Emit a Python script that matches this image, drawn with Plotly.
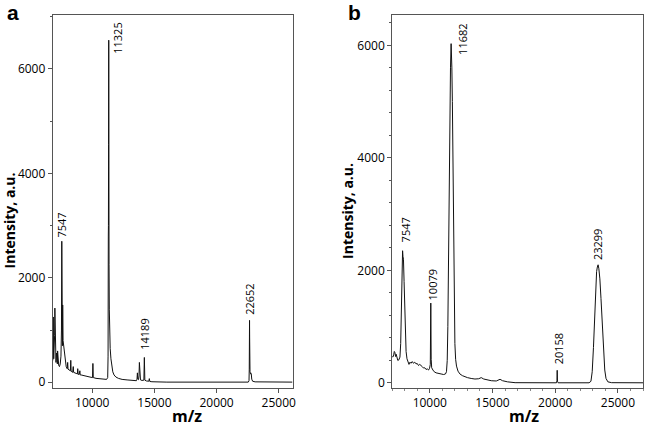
import plotly.graph_objects as go

# ---------------- data ----------------
mz_a = [6830, 6860, 6880, 6900, 6940, 6970, 6990, 7010, 7040, 7080, 7120, 7150, 7190, 7210, 7240,
        7300, 7360, 7420, 7480, 7520, 7547, 7570, 7600, 7620, 7650, 7690, 7720, 7770, 7830, 7900,
        7980, 8020, 8050, 8150, 8240, 8270, 8300, 8420, 8470, 8500, 8560, 8700, 8800, 8830, 8870,
        8950, 9000, 9030, 9100, 9300, 9500, 9700, 9900, 10020, 10050, 10080, 10300, 10600, 10900,
        11150, 11240, 11270, 11290, 11300, 11312, 11325, 11338, 11350, 11370, 11400, 11440, 11500,
        11560, 11650, 11750, 11900, 12100, 12400, 12800, 13200, 13550, 13600, 13630, 13660, 13720,
        13760, 13790, 13820, 13880, 14000, 14150, 14189, 14230, 14350, 14550, 14590, 14630, 14800,
        15200, 16000, 22550, 22610, 22630, 22645, 22652, 22662, 22690, 22740, 22790, 22830, 22900,
        23100, 24000, 26100]
intensity_a = [420, 1250, 600, 450, 650, 900, 1420, 800, 450, 380, 560, 420, 350, 600, 360,
               320, 300, 350, 500, 1000, 2700, 900, 700, 1480, 800, 720, 600, 480, 380, 300,
               260, 380, 250, 230, 220, 420, 210, 190, 300, 190, 180, 170, 160, 260, 150,
               150, 220, 140, 140, 125, 115, 105, 95, 90, 360, 90, 75, 65, 55,
               55, 90, 500, 2800, 3000, 4550, 6550, 4550, 2250, 1400, 900, 650, 450,
               300, 200, 140, 100, 75, 55, 45, 35, 30, 60, 180, 60, 50,
               120, 380, 100, 45, 35, 40, 475, 40, 25, 20, 70, 15, 10,
               5, 3, 3, 30, 250, 850, 1185, 850, 200, 160, 170, 60, 20,
               8, 3, 3]

mz_b = [7000, 7060, 7120, 7170, 7220, 7270, 7320, 7380, 7450, 7530, 7620, 7680, 7720, 7760, 7800,
        7830, 7860, 7900, 7950, 8000, 8050, 8110, 8180, 8260, 8340, 8420, 8500, 8600, 8700, 8800,
        8900, 9000, 9100, 9200, 9300, 9400, 9500, 9600, 9700, 9800, 9900, 9980, 10040, 10079,
        10110, 10150, 10250, 10350, 10500, 10700, 10900, 11100, 11250, 11330, 11390, 11440, 11490,
        11540, 11600, 11650, 11700, 11730, 11760, 11800, 11850, 11900, 11950, 12000, 12060, 12130,
        12250, 12400, 12600, 12800, 13000, 13300, 13600, 13900, 14100, 14300, 14600, 14900, 15300,
        15600, 15800, 16200, 16800, 18000, 20100, 20140, 20158, 20180, 20230, 22700, 22850, 22950,
        23050, 23150, 23240, 23300, 23360, 23420, 23480, 23560, 23650, 23750, 23850, 23950, 24050,
        24200, 24500, 27000]
intensity_b = [470, 460, 500, 560, 540, 470, 510, 430, 400, 410, 460, 700, 1400, 2100, 2330,
               2350, 2250, 2200, 1800, 1250, 800, 560, 430, 380, 330, 370, 350, 380, 350, 370,
               340, 345, 310, 330, 300, 290, 265, 270, 240, 250, 230, 260, 330, 1420,
               420, 270, 230, 200, 180, 165, 160, 150, 160, 200, 400, 1000, 2300,
               3500, 4800, 5600, 6030, 5900, 5600, 5000, 3600, 2300, 1300, 700, 420, 300,
               210, 160, 130, 110, 95, 80, 70, 75, 95, 70, 50, 40, 35,
               65, 40, 20, 5, 3, 3, 40, 225, 30, 3, 3, 30, 200,
               630, 1200, 1800, 1980, 2060, 2100, 2030, 1850, 1500, 1000, 550, 230, 80,
               20, 5, 3]

# peak labels: text, x position, bottom of text (data units)
labels_a = ["7547", "11325", "14189", "22652"]
label_x_a = [7542, 12026, 14187, 22634]
label_y_a = [2757, 6270, 600, 1268]

labels_b = ["7547", "10079", "11682", "20158", "23299"]
label_x_b = [8070, 10183, 12655, 20231, 23421]
label_y_b = [2482, 1442, 5805, 307, 2160]

x_ticks = [10000, 15000, 20000, 25000]
y_ticks = [0, 2000, 4000, 6000]

# ---------------- figure ----------------
W, H = 647, 426
fig = go.Figure()
fig.add_trace(go.Scatter(x=mz_a, y=intensity_a, mode="lines",
                         line=dict(color="#111111", width=1), xaxis="x", yaxis="y",
                         showlegend=False, hoverinfo="skip"))
fig.add_trace(go.Scatter(x=mz_b, y=intensity_b, mode="lines",
                         line=dict(color="#111111", width=1), xaxis="x2", yaxis="y2",
                         showlegend=False, hoverinfo="skip"))

tick_font = dict(family="Open Sans", size=12, color="#000000")
axis_common = dict(showline=True, linecolor="#555555", linewidth=1, mirror=True,
                   ticks="outside", ticklen=4, tickcolor="#555555", showgrid=False,
                   zeroline=False, tickfont=tick_font, tickformat="d")

ytop = 1 - 15 / H
ybot = 1 - 390.5 / H

fig.update_layout(
    width=W, height=H, margin=dict(l=0, r=0, t=0, b=0),
    paper_bgcolor="white", plot_bgcolor="white",
    xaxis=dict(domain=[53 / W, 294 / W], range=[6820, 26120], tickvals=x_ticks,
               anchor="y", **axis_common),
    yaxis=dict(domain=[ybot, ytop], range=[-105, 7034], tickvals=y_ticks,
               minor=dict(dtick=1000, ticks="outside", ticklen=2, tickcolor="#555555"),
               anchor="x", **axis_common),
    xaxis2=dict(domain=[394 / W, 646 / W], range=[7000, 27000], tickvals=x_ticks,
                minor=dict(dtick=1000, ticks="outside", ticklen=2, tickcolor="#888888"),
                anchor="y2", **axis_common),
    yaxis2=dict(domain=[ybot, ytop], range=[-85, 6541], tickvals=y_ticks,
                minor=dict(dtick=400, ticks="outside", ticklen=2, tickcolor="#555555"),
                anchor="x2", **axis_common),
)

annotations = []
lab_font = dict(family="Open Sans", size=11, color="#000000")
for t, x, y in zip(labels_a, label_x_a, label_y_a):
    annotations.append(dict(text=t, x=x, y=y, xref="x", yref="y", textangle=-90,
                            xanchor="center", yanchor="bottom", showarrow=False,
                            font=lab_font, borderpad=0))
for t, x, y in zip(labels_b, label_x_b, label_y_b):
    annotations.append(dict(text=t, x=x, y=y, xref="x2", yref="y2", textangle=-90,
                            xanchor="center", yanchor="bottom", showarrow=False,
                            font=lab_font, borderpad=0))

title_font = dict(family="Open Sans", size=14, color="#000000")
annotations += [
    dict(text="<b>Intensity, a.u.</b>", x=9 / W, y=1 - 222 / H, xref="paper", yref="paper",
         textangle=-90, showarrow=False, font=title_font, xanchor="center", yanchor="middle"),
    dict(text="<b>Intensity, a.u.</b>", x=349 / W, y=1 - 212 / H, xref="paper", yref="paper",
         textangle=-90, showarrow=False, font=title_font, xanchor="center", yanchor="middle"),
    dict(text="<b>m/z</b>", x=188 / W, y=1 - 419 / H, xref="paper", yref="paper",
         showarrow=False, font=dict(family="Open Sans", size=16, color="#000000"),
         xanchor="center", yanchor="middle"),
    dict(text="<b>m/z</b>", x=526 / W, y=1 - 419 / H, xref="paper", yref="paper",
         showarrow=False, font=dict(family="Open Sans", size=16, color="#000000"),
         xanchor="center", yanchor="middle"),
    dict(text="<b>a</b>", x=12.7 / W, y=1.0, xref="paper", yref="paper",
         showarrow=False, font=dict(family="Liberation Sans", size=21, color="#000000"),
         xanchor="center", yanchor="top", borderpad=0),
    dict(text="<b>b</b>", x=356 / W, y=1.0, xref="paper", yref="paper",
         showarrow=False, font=dict(family="Liberation Sans", size=21, color="#000000"),
         xanchor="center", yanchor="top", borderpad=0),
]
fig.update_layout(annotations=annotations)

fig.write_html("out.html", config={"displayModeBar": False},
               post_script="document.body.style.margin='0px';document.body.style.overflow='hidden';")
